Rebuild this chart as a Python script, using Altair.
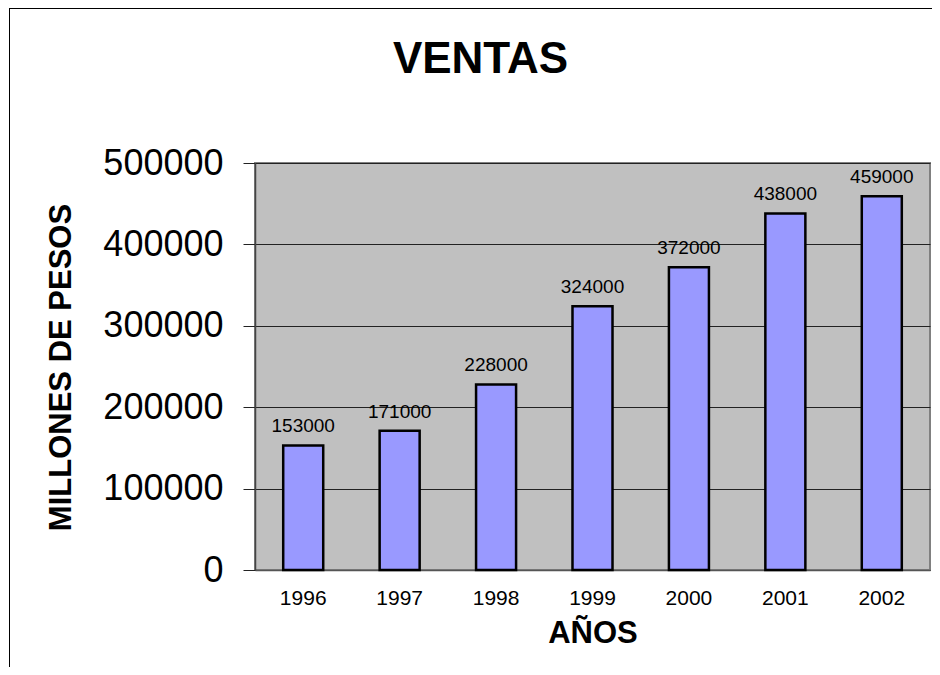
import altair as alt
import pandas as pd

years = ["1996", "1997", "1998", "1999", "2000", "2001", "2002"]
ventas = [153000, 171000, 228000, 324000, 372000, 438000, 459000]
y_ticks = [0, 100000, 200000, 300000, 400000, 500000]

df = pd.DataFrame({"year": years, "ventas": ventas})

FONT = "Liberation Sans"

x_enc = alt.X(
    "year:N",
    sort=years,
    scale=alt.Scale(paddingInner=0.585, paddingOuter=0.2925),
    axis=alt.Axis(
        title="AÑOS",
        titleFont=FONT,
        titleFontSize=31,
        titleFontWeight="bold",
        titleColor="black",
        titleBaseline="alphabetic",
        titleY=72,
        labelAngle=0,
        labelFont=FONT,
        labelFontSize=21,
        labelColor="black",
        labelPadding=17,
        ticks=False,
        domainColor="#555555",
        domainWidth=1.5,
    ),
)

y_enc = alt.Y(
    "ventas:Q",
    scale=alt.Scale(domain=[0, 500000], nice=False),
    axis=alt.Axis(
        title="MILLONES DE PESOS",
        titleFont=FONT,
        titleFontSize=31,
        titleFontWeight="bold",
        titleColor="black",
        titleAngle=270,
        titleAlign="center",
        titleBaseline="alphabetic",
        titleX=-185,
        titleY=204,
        values=y_ticks,
        format="d",
        labelFont=FONT,
        labelFontSize=36,
        labelColor="black",
        labelPadding=20,
        tickSize=12,
        tickColor="#222222",
        tickWidth=1,
        domainColor="#444444",
        domainWidth=1.5,
        grid=True,
        gridColor="#222222",
        gridWidth=1,
    ),
)

base = alt.Chart(df)

bars = base.mark_bar(color="#9999FF", stroke="black", strokeWidth=2.5).encode(
    x=x_enc, y=y_enc
)

labels = base.mark_text(
    font=FONT, fontSize=19, color="black", baseline="alphabetic", dy=-13
).encode(x=x_enc, y=y_enc, text=alt.Text("ventas:Q", format="d"))

frame = base.mark_rect(
    fillOpacity=0, stroke="black", strokeWidth=1
).encode(
    x=alt.value(-245.5),
    x2=alt.value(900),
    y=alt.value(-154.5),
    y2=alt.value(700),
)

chart = (
    alt.layer(bars, labels, frame)
    .properties(
        width=675,
        height=407,
        background="white",
        autosize=alt.AutoSizeParams(type="none"),
        padding={"left": 247, "top": 155, "right": 2, "bottom": 97},
        title=alt.TitleParams(
            text="VENTAS",
            font=FONT,
            fontSize=44,
            fontWeight="bold",
            color="black",
            anchor="middle",
            frame="group",
            baseline="alphabetic",
            dx=-112,
            dy=109,
            offset=0,
        ),
    )
    .configure_view(fill="#C0C0C0", stroke="#808080", strokeWidth=2)
)

chart.save("out.html", embed_options={"renderer": "svg", "actions": False})
